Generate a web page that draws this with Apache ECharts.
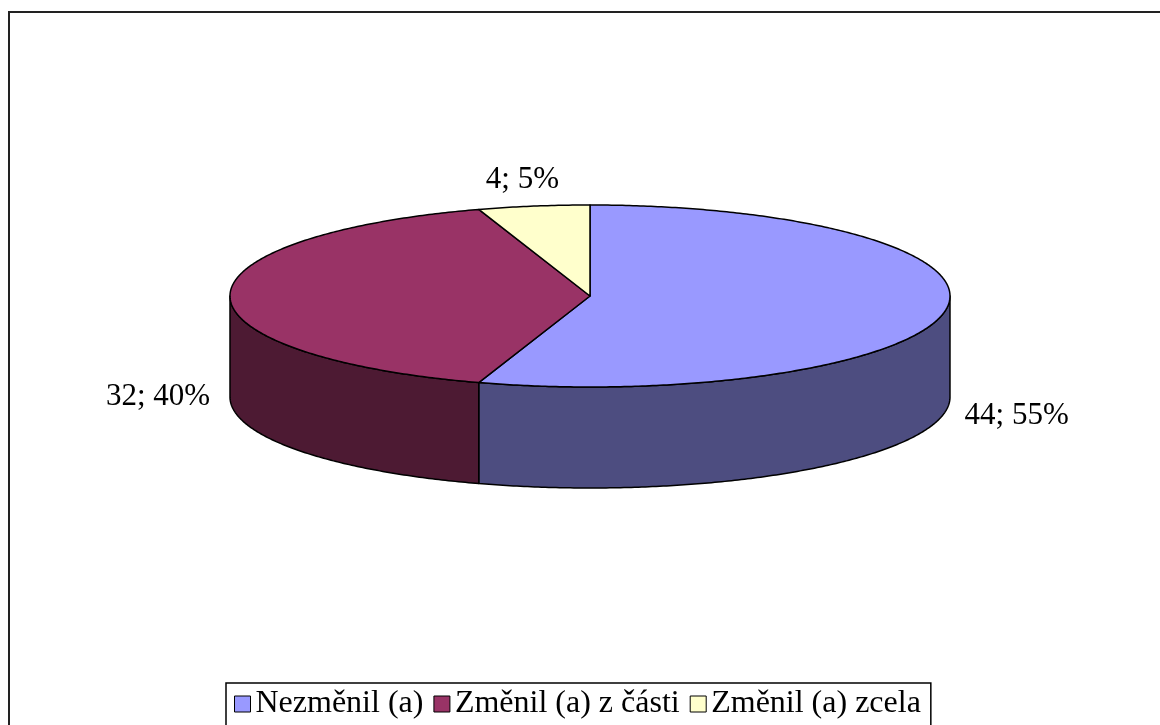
<!DOCTYPE html>
<html><head><meta charset="utf-8">
<script src="https://cdn.jsdelivr.net/npm/echarts@6/dist/echarts.min.js"></script>
<style>html,body{margin:0;padding:0;background:#fff}#c{width:1160px;height:725px}</style>
</head><body><div id="c"></div>
<script>
const categories = ['Nezměnil (a)', 'Změnil (a) z části', 'Změnil (a) zcela'];
const values = [44, 32, 4];
const topColors = ['#9999FF', '#993366', '#FFFFCC'];
const sideColors = ['#4D4D80', '#4D1A33', '#80806A'];

const total = values.reduce((a, b) => a + b, 0);
const CX = 590, CY = 296, RX = 360, RY = 91, DEPTH = 101;
const FONT = '"Liberation Serif", "Times New Roman", serif';

function pt(t, dy) { return [CX + RX * Math.sin(t), CY - RY * Math.cos(t) + dy]; }
function arc(a, b, dy) {
  const n = Math.max(2, Math.ceil(Math.abs(b - a) / 0.01));
  const out = [];
  for (let i = 0; i <= n; i++) out.push(pt(a + (b - a) * i / n, dy));
  return out;
}

function makeRender(idx) {
  return function (params, api) {
    const v = api.value(0);
    let before = 0;
    for (let i = 0; i < idx; i++) before += values[i];
    const start = before / total * Math.PI * 2;
    const end = (before + v) / total * Math.PI * 2;
    const children = [];
    const wa = Math.max(start, Math.PI / 2), wb = Math.min(end, Math.PI * 1.5);
    if (wb > wa) {
      children.push({
        type: 'polygon',
        shape: { points: arc(wa, wb, 0).concat(arc(wb, wa, DEPTH)) },
        style: { fill: sideColors[idx], stroke: '#000', lineWidth: 1.5, lineJoin: 'round' }
      });
    }
    children.push({
      type: 'polygon',
      shape: { points: [[CX, CY]].concat(arc(start, end, 0)) },
      style: { fill: topColors[idx], stroke: '#000', lineWidth: 1.5, lineJoin: 'round' }
    });
    const mid = (start + end) / 2;
    const front = Math.cos(mid) <= 1e-6 ? DEPTH : 0;
    const lx = CX + RX * 1.2 * Math.sin(mid);
    const ly = CY - RY * 1.29 * Math.cos(mid) + front;
    const pct = Math.round(v / total * 100);
    children.push({
      type: 'text',
      style: { x: lx, y: ly, text: v + '; ' + pct + '%', fill: '#000', font: '31px ' + FONT,
               align: 'center', verticalAlign: 'middle' }
    });
    return { type: 'group', children: children };
  };
}

const chart = echarts.init(document.getElementById('c'), null, { renderer: 'canvas' });
chart.setOption({
  animation: false,
  backgroundColor: '#fff',
  graphic: [{
    type: 'rect', silent: true, z: -10,
    shape: { x: 9, y: 12, width: 1300, height: 900 },
    style: { fill: 'none', stroke: '#222', lineWidth: 2 }
  }],
  legend: {
    data: categories,
    left: 226, top: 683,
    orient: 'horizontal',
    icon: 'rect',
    itemWidth: 16, itemHeight: 16, itemGap: 10,
    itemStyle: { borderColor: '#000', borderWidth: 1 },
    textStyle: { fontSize: 32, fontFamily: FONT, color: '#000' },
    borderColor: '#000', borderWidth: 1.5,
    padding: [5, 10, 40, 8],
    selectedMode: false
  },
  series: categories.map((name, i) => ({
    type: 'custom',
    name: name,
    coordinateSystem: 'none',
    silent: true,
    itemStyle: { color: topColors[i] },
    renderItem: makeRender(i),
    data: [[values[i]]]
  }))
});
</script></body></html>
